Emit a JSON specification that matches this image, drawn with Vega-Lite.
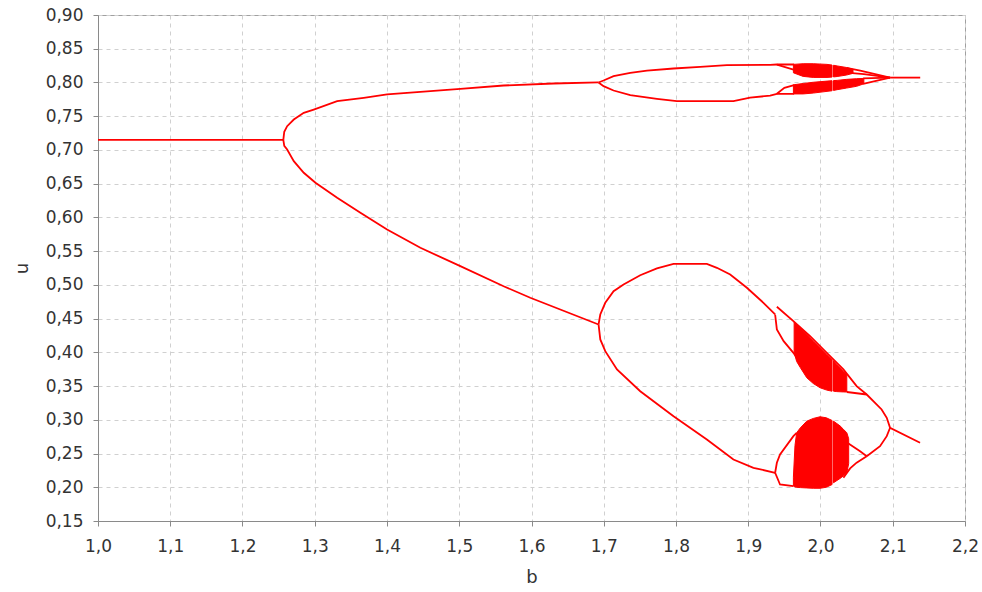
{
  "$schema": "https://vega.github.io/schema/vega-lite/v6.json",
  "width": 867,
  "height": 506,
  "autosize": {"type": "none"},
  "padding": {"left": 98, "top": 15, "right": 17, "bottom": 71},
  "background": "white",
  "config": {
    "view": {"stroke": "#a0a0a0", "strokeWidth": 1},
    "axis": {
      "domainColor": "#8a8a8a",
      "tickColor": "#8a8a8a",
      "tickSize": 5,
      "gridColor": "#d0d0d0",
      "gridDash": [4, 4],
      "labelFont": "DejaVu Sans",
      "labelFontSize": 17,
      "labelColor": "#333333",
      "labelOverlap": false,
      "labelFlush": false,
      "titleFont": "DejaVu Sans",
      "titleFontSize": 18,
      "titleFontWeight": "normal",
      "titleColor": "#333333"
    }
  },
  "datasets": {
    "lines": [
      {"s": "fix", "b": 1.0, "u": 0.715},
      {"s": "fix", "b": 1.2565, "u": 0.715},
      {"s": "p2u", "b": 1.2565, "u": 0.715},
      {"s": "p2u", "b": 1.2578, "u": 0.727},
      {"s": "p2u", "b": 1.2618, "u": 0.7352},
      {"s": "p2u", "b": 1.271, "u": 0.7451},
      {"s": "p2u", "b": 1.2848, "u": 0.755},
      {"s": "p2u", "b": 1.2986, "u": 0.7599},
      {"s": "p2u", "b": 1.331, "u": 0.7722},
      {"s": "p2u", "b": 1.3678, "u": 0.7773},
      {"s": "p2u", "b": 1.4001, "u": 0.7822},
      {"s": "p2u", "b": 1.4462, "u": 0.7862},
      {"s": "p2u", "b": 1.5015, "u": 0.7906},
      {"s": "p2u", "b": 1.5614, "u": 0.7955},
      {"s": "p2u", "b": 1.6306, "u": 0.7985},
      {"s": "p2u", "b": 1.6928, "u": 0.8},
      {"s": "p2l", "b": 1.2565, "u": 0.715},
      {"s": "p2l", "b": 1.2578, "u": 0.706},
      {"s": "p2l", "b": 1.2618, "u": 0.7007},
      {"s": "p2l", "b": 1.271, "u": 0.6833},
      {"s": "p2l", "b": 1.2848, "u": 0.6661},
      {"s": "p2l", "b": 1.301, "u": 0.6513},
      {"s": "p2l", "b": 1.331, "u": 0.6291},
      {"s": "p2l", "b": 1.3632, "u": 0.6068},
      {"s": "p2l", "b": 1.4001, "u": 0.5821},
      {"s": "p2l", "b": 1.4462, "u": 0.555},
      {"s": "p2l", "b": 1.5015, "u": 0.5277},
      {"s": "p2l", "b": 1.5614, "u": 0.498},
      {"s": "p2l", "b": 1.5983, "u": 0.4809},
      {"s": "p2l", "b": 1.6398, "u": 0.4635},
      {"s": "p2l", "b": 1.6928, "u": 0.4413},
      {"s": "tuu", "b": 1.6928, "u": 0.8},
      {"s": "tuu", "b": 1.6997, "u": 0.8029},
      {"s": "tuu", "b": 1.7136, "u": 0.8093},
      {"s": "tuu", "b": 1.7367, "u": 0.8143},
      {"s": "tuu", "b": 1.7598, "u": 0.8177},
      {"s": "tuu", "b": 1.7966, "u": 0.8207},
      {"s": "tuu", "b": 1.8335, "u": 0.8232},
      {"s": "tuu", "b": 1.8704, "u": 0.8256},
      {"s": "tuu", "b": 1.9303, "u": 0.8262},
      {"s": "tuu", "b": 1.9396, "u": 0.8266},
      {"s": "tuu", "b": 1.9635, "u": 0.8266},
      {"s": "tul", "b": 1.6928, "u": 0.8},
      {"s": "tul", "b": 1.6997, "u": 0.7945},
      {"s": "tul", "b": 1.7136, "u": 0.7881},
      {"s": "tul", "b": 1.7367, "u": 0.7811},
      {"s": "tul", "b": 1.7736, "u": 0.7758},
      {"s": "tul", "b": 1.8012, "u": 0.7722},
      {"s": "tul", "b": 1.8795, "u": 0.7722},
      {"s": "tul", "b": 1.9026, "u": 0.7775},
      {"s": "tul", "b": 1.9303, "u": 0.7805},
      {"s": "tul", "b": 1.9396, "u": 0.7832},
      {"s": "tul", "b": 1.9635, "u": 0.7832},
      {"s": "th1", "b": 1.9396, "u": 0.8266},
      {"s": "th1", "b": 1.9625, "u": 0.8192},
      {"s": "th1", "b": 1.976, "u": 0.8167},
      {"s": "th2", "b": 1.9396, "u": 0.7832},
      {"s": "th2", "b": 1.95, "u": 0.792},
      {"s": "th2", "b": 1.9635, "u": 0.796},
      {"s": "tw1", "b": 2.036, "u": 0.8217},
      {"s": "tw1", "b": 2.055, "u": 0.8175},
      {"s": "tw1", "b": 2.0963, "u": 0.8072},
      {"s": "tw2", "b": 2.04, "u": 0.8143},
      {"s": "tw2", "b": 2.06, "u": 0.8125},
      {"s": "tw2", "b": 2.0963, "u": 0.8072},
      {"s": "tw3", "b": 2.059, "u": 0.806},
      {"s": "tw3", "b": 2.0963, "u": 0.8072},
      {"s": "tw4", "b": 2.059, "u": 0.798},
      {"s": "tw4", "b": 2.0963, "u": 0.8072},
      {"s": "tend", "b": 2.0963, "u": 0.8072},
      {"s": "tend", "b": 2.138, "u": 0.8072},
      {"s": "lua", "b": 1.6928, "u": 0.4413},
      {"s": "lua", "b": 1.6952, "u": 0.4561},
      {"s": "lua", "b": 1.7021, "u": 0.4734},
      {"s": "lua", "b": 1.7136, "u": 0.4906},
      {"s": "lua", "b": 1.7274, "u": 0.5006},
      {"s": "lua", "b": 1.7505, "u": 0.5143},
      {"s": "lua", "b": 1.7736, "u": 0.5243},
      {"s": "lua", "b": 1.7966, "u": 0.5312},
      {"s": "lua", "b": 1.8427, "u": 0.5312},
      {"s": "lua", "b": 1.8566, "u": 0.5253},
      {"s": "lua", "b": 1.875, "u": 0.5154},
      {"s": "lua", "b": 1.8981, "u": 0.4957},
      {"s": "lua", "b": 1.921, "u": 0.4734},
      {"s": "lua", "b": 1.9372, "u": 0.4561},
      {"s": "lla", "b": 1.6928, "u": 0.4413},
      {"s": "lla", "b": 1.6952, "u": 0.4191},
      {"s": "lla", "b": 1.7021, "u": 0.4017},
      {"s": "lla", "b": 1.7183, "u": 0.3746},
      {"s": "lla", "b": 1.7505, "u": 0.3424},
      {"s": "lla", "b": 1.7966, "u": 0.3054},
      {"s": "lla", "b": 1.8427, "u": 0.2708},
      {"s": "lla", "b": 1.8795, "u": 0.2412},
      {"s": "lla", "b": 1.9072, "u": 0.2289},
      {"s": "lla", "b": 1.9372, "u": 0.2215},
      {"s": "diag", "b": 1.9396, "u": 0.4675},
      {"s": "diag", "b": 1.9625, "u": 0.4462},
      {"s": "diag", "b": 1.9856, "u": 0.4239},
      {"s": "diag", "b": 2.0087, "u": 0.3993},
      {"s": "diag", "b": 2.0317, "u": 0.3746},
      {"s": "diag", "b": 2.05, "u": 0.3499},
      {"s": "diag", "b": 2.064, "u": 0.3375},
      {"s": "diag", "b": 2.0846, "u": 0.3153},
      {"s": "diag", "b": 2.0917, "u": 0.303},
      {"s": "diag", "b": 2.0963, "u": 0.2882},
      {"s": "diag", "b": 2.1378, "u": 0.266},
      {"s": "udots", "b": 1.9372, "u": 0.4561},
      {"s": "udots", "b": 1.9396, "u": 0.4339},
      {"s": "udots", "b": 1.949, "u": 0.4165},
      {"s": "udots", "b": 1.9625, "u": 0.3993},
      {"s": "udots", "b": 1.972, "u": 0.384},
      {"s": "uwedge", "b": 2.0364, "u": 0.3412},
      {"s": "uwedge", "b": 2.064, "u": 0.3375},
      {"s": "lw1", "b": 2.034, "u": 0.2683},
      {"s": "lw1", "b": 2.0548, "u": 0.2535},
      {"s": "lw1", "b": 2.064, "u": 0.2461},
      {"s": "lw2", "b": 2.0317, "u": 0.214},
      {"s": "lw2", "b": 2.041, "u": 0.228},
      {"s": "lw2", "b": 2.05, "u": 0.2365},
      {"s": "lw2", "b": 2.064, "u": 0.2461},
      {"s": "lw3", "b": 2.064, "u": 0.2461},
      {"s": "lw3", "b": 2.0824, "u": 0.2609},
      {"s": "lw3", "b": 2.0917, "u": 0.2757},
      {"s": "lw3", "b": 2.0963, "u": 0.2882},
      {"s": "ld1", "b": 1.9372, "u": 0.2215},
      {"s": "ld1", "b": 1.9396, "u": 0.2363},
      {"s": "ld1", "b": 1.944, "u": 0.2486},
      {"s": "ld1", "b": 1.9625, "u": 0.2758},
      {"s": "ld1", "b": 1.967, "u": 0.2808},
      {"s": "ld2", "b": 1.9372, "u": 0.2215},
      {"s": "ld2", "b": 1.944, "u": 0.2041},
      {"s": "ld2", "b": 1.9625, "u": 0.2017}
    ],
    "blobs": [
      {"s": "ut1", "b": 1.9625, "lo": 0.8143, "hi": 0.8268},
      {"s": "ut1", "b": 1.976, "lo": 0.809, "hi": 0.8278},
      {"s": "ut1", "b": 1.99, "lo": 0.8075, "hi": 0.8278},
      {"s": "ut1", "b": 2.009, "lo": 0.8075, "hi": 0.8268},
      {"s": "ut1", "b": 2.016, "lo": 0.808, "hi": 0.8258},
      {"s": "ut2", "b": 2.018, "lo": 0.8082, "hi": 0.8255},
      {"s": "ut2", "b": 2.023, "lo": 0.8088, "hi": 0.8245},
      {"s": "ut2", "b": 2.036, "lo": 0.811, "hi": 0.8222},
      {"s": "ut2", "b": 2.045, "lo": 0.8135, "hi": 0.8195},
      {"s": "lt1", "b": 1.9625, "lo": 0.783, "hi": 0.7965},
      {"s": "lt1", "b": 1.976, "lo": 0.783, "hi": 0.7985},
      {"s": "lt1", "b": 1.99, "lo": 0.7843, "hi": 0.8003},
      {"s": "lt1", "b": 2.009, "lo": 0.7868, "hi": 0.802},
      {"s": "lt1", "b": 2.016, "lo": 0.7877, "hi": 0.8026},
      {"s": "lt2", "b": 2.018, "lo": 0.7882, "hi": 0.8028},
      {"s": "lt2", "b": 2.023, "lo": 0.7893, "hi": 0.8031},
      {"s": "lt2", "b": 2.036, "lo": 0.7917, "hi": 0.8046},
      {"s": "lt2", "b": 2.05, "lo": 0.7943, "hi": 0.8056},
      {"s": "lt2", "b": 2.06, "lo": 0.798, "hi": 0.806},
      {"s": "ub1", "b": 1.9635, "lo": 0.4, "hi": 0.445},
      {"s": "ub1", "b": 1.967, "lo": 0.3864, "hi": 0.4413},
      {"s": "ub1", "b": 1.972, "lo": 0.3775, "hi": 0.436},
      {"s": "ub1", "b": 1.981, "lo": 0.3623, "hi": 0.4264},
      {"s": "ub1", "b": 1.99, "lo": 0.3538, "hi": 0.4167},
      {"s": "ub1", "b": 1.9994, "lo": 0.3475, "hi": 0.4067},
      {"s": "ub1", "b": 2.0087, "lo": 0.344, "hi": 0.3967},
      {"s": "ub1", "b": 2.016, "lo": 0.3424, "hi": 0.389},
      {"s": "ub2", "b": 2.018, "lo": 0.3424, "hi": 0.3875},
      {"s": "ub2", "b": 2.0226, "lo": 0.3418, "hi": 0.3818},
      {"s": "ub2", "b": 2.0317, "lo": 0.3413, "hi": 0.3721},
      {"s": "ub2", "b": 2.0364, "lo": 0.3412, "hi": 0.3671},
      {"s": "lb1", "b": 1.9625, "lo": 0.2017, "hi": 0.215},
      {"s": "lb1", "b": 1.9647, "lo": 0.2005, "hi": 0.262},
      {"s": "lb1", "b": 1.967, "lo": 0.2, "hi": 0.2808},
      {"s": "lb1", "b": 1.972, "lo": 0.1995, "hi": 0.288},
      {"s": "lb1", "b": 1.981, "lo": 0.199, "hi": 0.298},
      {"s": "lb1", "b": 1.99, "lo": 0.1985, "hi": 0.302},
      {"s": "lb1", "b": 1.9994, "lo": 0.1985, "hi": 0.3045},
      {"s": "lb1", "b": 2.008, "lo": 0.2, "hi": 0.303},
      {"s": "lb1", "b": 2.016, "lo": 0.204, "hi": 0.299},
      {"s": "lb2", "b": 2.018, "lo": 0.2067, "hi": 0.298},
      {"s": "lb2", "b": 2.027, "lo": 0.213, "hi": 0.291},
      {"s": "lb2", "b": 2.0317, "lo": 0.217, "hi": 0.286},
      {"s": "lb2", "b": 2.0364, "lo": 0.2215, "hi": 0.2808},
      {"s": "lb2", "b": 2.039, "lo": 0.235, "hi": 0.272}
    ]
  },
  "layer": [
    {
      "data": {"name": "blobs"},
      "mark": {"type": "area", "color": "#ff0000", "stroke": "#ff0000", "strokeWidth": 1, "interpolate": "linear"},
      "encoding": {
        "x": {"field": "b", "type": "quantitative"},
        "y": {"field": "lo", "type": "quantitative"},
        "y2": {"field": "hi"},
        "detail": {"field": "s", "type": "nominal"}
      }
    },
    {
      "data": {"name": "lines"},
      "mark": {"type": "line", "color": "#ff0000", "strokeWidth": 1.8},
      "encoding": {
        "x": {
          "field": "b",
          "type": "quantitative",
          "title": "b",
          "scale": {"domain": [1.0, 2.2], "nice": false, "zero": false},
          "axis": {
            "values": [1.0, 1.1, 1.2, 1.3, 1.4, 1.5, 1.6, 1.7, 1.8, 1.9, 2.0, 2.1, 2.2],
            "tickCount": 30,
            "labelExpr": "replace(format(datum.value, '.1f'), '.', ',')",
            "labelPadding": 12,
            "titlePadding": 14
          }
        },
        "y": {
          "field": "u",
          "type": "quantitative",
          "title": "u",
          "scale": {"domain": [0.15, 0.9], "nice": false, "zero": false},
          "axis": {
            "values": [0.15, 0.2, 0.25, 0.3, 0.35, 0.4, 0.45, 0.5, 0.55, 0.6, 0.65, 0.7, 0.75, 0.8, 0.85, 0.9],
            "tickCount": 30,
            "labelExpr": "replace(format(datum.value, '.2f'), '.', ',')",
            "labelPadding": 10,
            "titlePadding": 14
          }
        },
        "detail": {"field": "s", "type": "nominal"}
      }
    }
  ]
}
